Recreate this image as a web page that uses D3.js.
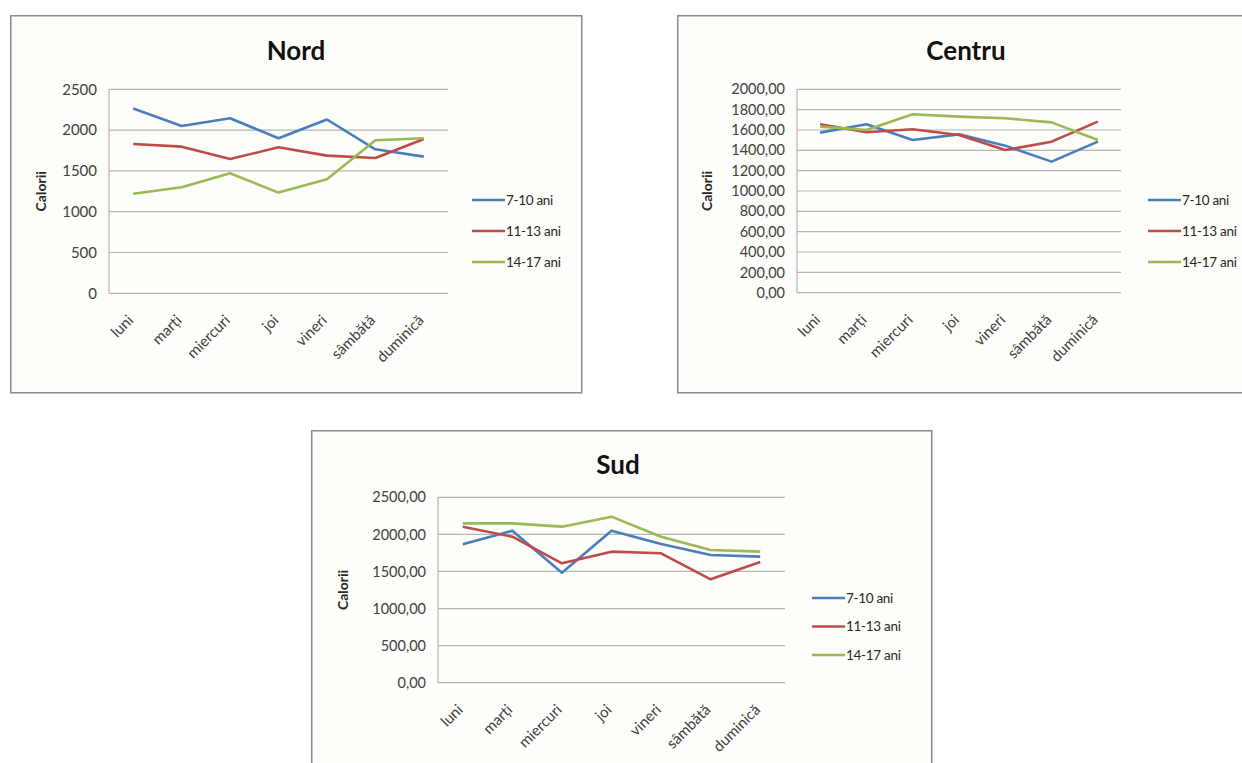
<!DOCTYPE html>
<html>
<head>
<meta charset="utf-8">
<script src="https://cdn.jsdelivr.net/npm/d3@7"></script>
<style>
  html, body { margin: 0; padding: 0; background: #ffffff; }
  svg { display: block; }
  text { font-family: Lato, "Open Sans", "Liberation Sans", sans-serif; }
</style>
</head>
<body>
<svg id="chart" width="1242" height="763"></svg>
<script>
// Days of the week (Romanian)
const days = ["luni", "marți", "miercuri", "joi", "vineri", "sâmbătă", "duminică"];
const ageGroups = ["7-10 ani", "11-13 ani", "14-17 ani"];

// Nord region – daily calorie intake per age group
const nord710 = [2265, 2050, 2145, 1900, 2130, 1765, 1675];
const nord1113 = [1830, 1797, 1646, 1789, 1687, 1658, 1891];
const nord1417 = [1221, 1299, 1471, 1234, 1397, 1875, 1900];
const nordTicks = [0, 500, 1000, 1500, 2000, 2500];

// Centru region
const centru710 = [1574, 1656, 1502, 1557, 1446, 1289, 1485];
const centru1113 = [1656, 1577, 1607, 1551, 1403, 1485, 1682];
const centru1417 = [1633, 1600, 1754, 1731, 1715, 1675, 1502];
const centruTicks = [0, 200, 400, 600, 800, 1000, 1200, 1400, 1600, 1800, 2000];

// Sud region
const sud710 = [1866, 2050, 1484, 2050, 1871, 1722, 1700];
const sud1113 = [2104, 1969, 1610, 1767, 1745, 1394, 1628];
const sud1417 = [2149, 2149, 2104, 2239, 1969, 1790, 1767];
const sudTicks = [0, 500, 1000, 1500, 2000, 2500];

const colors = ["#4a7ebb", "#be4b48", "#98b954"];

const roLocale = d3.formatLocale({ decimal: ",", thousands: "", grouping: [3], currency: ["", " lei"] });
const fmtInt = roLocale.format("d");
const fmtDec = roLocale.format(".2f");

// Layout of each chart frame
const panels = [
  {
    title: "Nord", series: [nord710, nord1113, nord1417], ticks: nordTicks, fmt: fmtInt, tickSize: 15,
    box: { x: 10, y: 15, w: 571, h: 377 },
    plot: { x0: 109, x1: 448, y0: 89.3, y1: 293.3 },
    titleX: 296, titleY: 60, yLabelX: 46, legend: { x: 472, y: 200, gap: 31 }
  },
  {
    title: "Centru", series: [centru710, centru1113, centru1417], ticks: centruTicks, fmt: fmtDec, tickSize: 14.5,
    box: { x: 677, y: 15, w: 600, h: 377 },
    plot: { x0: 797, x1: 1121, y0: 89.3, y1: 292.7 },
    titleX: 966, titleY: 60, yLabelX: 712, legend: { x: 1148, y: 200, gap: 31 }
  },
  {
    title: "Sud", series: [sud710, sud1113, sud1417], ticks: sudTicks, fmt: fmtDec, tickSize: 14.5,
    box: { x: 311, y: 430, w: 620, h: 360 },
    plot: { x0: 438, x1: 785, y0: 497.3, y1: 682.7 },
    titleX: 618, titleY: 474, yLabelX: 348, legend: { x: 812, y: 598, gap: 28.5 }
  }
];

const svg = d3.select("#chart");

panels.forEach(p => {
  const g = svg.append("g");

  // chart frame
  g.append("rect")
    .attr("x", p.box.x + 0.75).attr("y", p.box.y + 0.75)
    .attr("width", p.box.w).attr("height", p.box.h)
    .attr("fill", "#fdfdf9")
    .attr("stroke", "#8a8a8a").attr("stroke-width", 1.5);

  const x = d3.scaleBand().domain(days).range([p.plot.x0, p.plot.x1]);
  const yMax = p.ticks[p.ticks.length - 1];
  const y = d3.scaleLinear().domain([0, yMax]).range([p.plot.y1, p.plot.y0]);

  // horizontal gridlines
  g.append("g").selectAll("line").data(p.ticks).join("line")
    .attr("x1", p.plot.x0).attr("x2", p.plot.x1)
    .attr("y1", d => y(d)).attr("y2", d => y(d))
    .attr("stroke", "#b4b4b4").attr("stroke-width", 1.2);

  // vertical axis line
  g.append("line")
    .attr("x1", p.plot.x0).attr("x2", p.plot.x0)
    .attr("y1", p.plot.y0).attr("y2", p.plot.y1)
    .attr("stroke", "#b4b4b4").attr("stroke-width", 1.2);

  // y axis tick labels
  const yAxis = d3.axisLeft(y).tickValues(p.ticks).tickFormat(p.fmt).tickSize(0).tickPadding(12);
  const ya = g.append("g").attr("transform", `translate(${p.plot.x0},0)`).call(yAxis);
  ya.select(".domain").remove();
  ya.selectAll("text").attr("font-size", p.tickSize).attr("fill", "#404040")
    .style("font-family", "Lato, 'Open Sans', sans-serif");

  // rotated category labels
  g.append("g").selectAll("text").data(days).join("text")
    .attr("transform", d => `translate(${x(d) + x.bandwidth() / 2 + 1},${p.plot.y1 + 28}) rotate(-45)`)
    .attr("text-anchor", "end")
    .attr("font-size", 15).attr("fill", "#404040")
    .text(d => d);

  // y axis title
  g.append("text")
    .attr("transform", `translate(${p.yLabelX},${(p.plot.y0 + p.plot.y1) / 2}) rotate(-90)`)
    .attr("text-anchor", "middle")
    .attr("font-size", 14).attr("font-weight", "bold").attr("fill", "#262626")
    .text("Calorii");

  // chart title
  g.append("text")
    .attr("x", p.titleX).attr("y", p.titleY)
    .attr("text-anchor", "middle")
    .attr("font-size", 26).attr("font-weight", "bold").attr("fill", "#111")
    .text(p.title);

  // series lines
  const line = d3.line()
    .x((d, i) => x(days[i]) + x.bandwidth() / 2)
    .y(d => y(d));
  p.series.forEach((s, i) => {
    g.append("path").datum(s)
      .attr("d", line)
      .attr("fill", "none")
      .attr("stroke", colors[i])
      .attr("stroke-width", 2.6)
      .attr("stroke-linejoin", "round");
  });

  // legend
  const lg = g.append("g");
  ageGroups.forEach((name, i) => {
    const ly = p.legend.y + i * p.legend.gap;
    lg.append("line")
      .attr("x1", p.legend.x).attr("x2", p.legend.x + 33)
      .attr("y1", ly).attr("y2", ly)
      .attr("stroke", colors[i]).attr("stroke-width", 2.6);
    lg.append("text")
      .attr("x", p.legend.x + 34).attr("y", ly + 4.5)
      .attr("font-size", 13.5).attr("fill", "#262626")
      .attr("letter-spacing", -0.3)
      .text(name);
  });
});
</script>
</body>
</html>
